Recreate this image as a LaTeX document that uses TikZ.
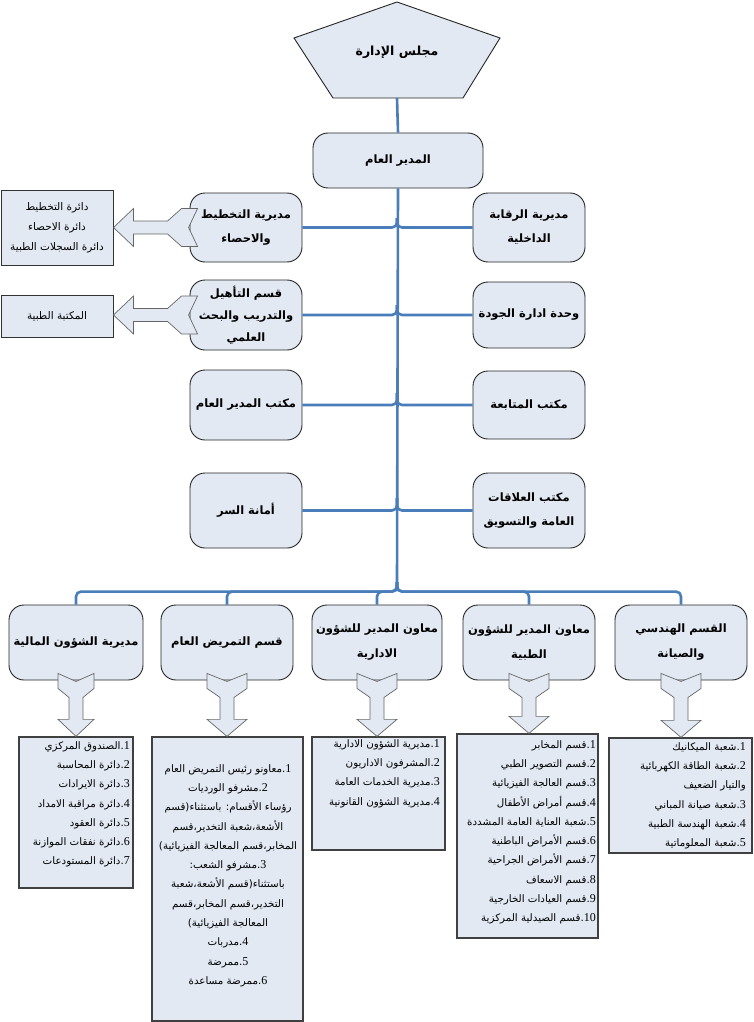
\documentclass[tikz,border=0pt]{standalone}
\usepackage{fontspec}
\setmainfont{Liberation Serif}
\newfontfamily\arabicfont[Script=Arabic]{DejaVu Sans}
\TeXXeTstate=1
\usetikzlibrary{calc}
\definecolor{boxfill}{HTML}{E2E9F3}
\definecolor{connblue}{HTML}{4A7EBB}
\newcommand\A{\arabicfont}
\newcommand\nm[1]{\hbox{\rmfamily\fontsize{12}{12}\selectfont #1}\hbox{.}}
\newcommand\unitfont{\fontsize{11.5}{24}\selectfont\bfseries}
\newcommand\listfont{\fontsize{10.3}{19.3}\selectfont}
\newcommand\blockdown[3]{%
  \path[arrowshape] let \p1=(#1.south), \p2=(#2.north) in
   (\x1-#3,\y1+7pt) -- (\x1,\y1-1pt) -- (\x1+#3,\y1+7pt) -- (\x1+#3,\y1-8pt)
   -- (\x1+7pt,\y1-17pt) -- (\x1+7pt,\y2+17pt) -- (\x1+#3,\y2+17pt) -- (\x1,\y2)
   -- (\x1-#3,\y2+17pt) -- (\x1-7pt,\y2+17pt) -- (\x1-7pt,\y1-17pt)
   -- (\x1-#3,\y1-8pt) -- cycle;}
\newcommand\blockleft[2]{%
  \path[arrowshape] let \p1=(#1.west), \p2=(#2.east) in
   (\x2,\y1) -- (\x2+20pt,\y1+19pt) -- (\x2+20pt,\y1+6.5pt) -- (\x1-22pt,\y1+6.5pt)
   -- (\x1-8pt,\y1+19pt) -- (\x1+8pt,\y1+19pt) -- (\x1-1pt,\y1) -- (\x1+8pt,\y1-19pt)
   -- (\x1-8pt,\y1-19pt) -- (\x1-22pt,\y1-6.5pt) -- (\x2+20pt,\y1-6.5pt)
   -- (\x2+20pt,\y1-19pt) -- cycle;}
\tikzset{
  unit/.style={draw=black!85, line width=0.9pt, fill=boxfill, rounded corners=15pt,
    inner sep=1pt, align=center, font=\unitfont},
  listbox/.style={draw=black!75, line width=1.3pt, fill=boxfill, inner sep=0pt},
  sidebox/.style={draw=black!80, line width=1pt, fill=boxfill, inner sep=1pt,
    align=center, font=\fontsize{10.5}{20}\selectfont},
  listtext/.style={align=right, font=\listfont, inner sep=0pt},
  conn/.style={draw=connblue, line width=2.6pt, rounded corners=5pt},
  arrowshape/.style={draw=black!60, line width=0.7pt, fill=boxfill, line join=miter}
}
\begin{document}
\begin{tikzpicture}[x=1pt,y=-1pt]
\useasboundingbox (0,0) rectangle (753,1022);
\fill[white] (0,0) rectangle (753,1022);

% board pentagon
\draw[draw=black!85, line width=0.9pt, fill=boxfill]
  (397,2) -- (500,38) -- (463,98) -- (333,98) -- (294,38) -- cycle;
\node[font=\fontsize{12.5}{14}\selectfont\bfseries] (board) at (397,52) {{\A\beginR مجلس الإدارة\endR}};
\coordinate (boardb) at (397,98);

% general manager
\node[unit, minimum width=170pt, minimum height=55pt] (gm) at (398,160.5) {{\A\beginR المدير العام\endR}};

% trunk coordinates
\coordinate (t1) at (397,218);
\coordinate (t2) at (397,305);
\coordinate (t3) at (397,393);
\coordinate (t4) at (397,498);
\coordinate (tb) at (397,582);

% side units
\node[unit, minimum width=112pt, minimum height=69pt] (plan) at (246,227.5) {{\A\beginR مديرية التخطيط\endR}\\{\A\beginR والاحصاء\endR}};
\node[unit, minimum width=112pt, minimum height=69pt] (ctrl) at (529,227.5) {{\A\beginR مديرية الرقابة\endR}\\{\A\beginR الداخلية\endR}};
\node[unit, minimum width=112pt, minimum height=70pt, font=\fontsize{11.5}{22}\selectfont\bfseries] (train) at (246,315) {{\A\beginR قسم التأهيل\endR}\\{\A\beginR والتدريب والبحث\endR}\\{\A\beginR العلمي\endR}};
\node[unit, minimum width=112pt, minimum height=66pt] (quality) at (529,315) {{\A\beginR وحدة ادارة الجودة\endR}};
\node[unit, minimum width=112pt, minimum height=70pt] (office) at (246,405) {{\A\beginR مكتب المدير العام\endR}};
\node[unit, minimum width=112pt, minimum height=68pt] (follow) at (529,405) {{\A\beginR مكتب المتابعة\endR}};
\node[unit, minimum width=112pt, minimum height=75pt] (secret) at (246,510.5) {{\A\beginR أمانة السر\endR}};
\node[unit, minimum width=112pt, minimum height=75pt] (pr) at (529,510.5) {{\A\beginR مكتب العلاقات\endR}\\{\A\beginR العامة والتسويق\endR}};

% connectors
\draw[conn] (boardb) -- (gm.north);
\draw[conn, rounded corners=0pt] (gm.south) -- (tb);
\foreach \t/\l/\r in {t1/plan/ctrl, t2/train/quality, t3/office/follow, t4/secret/pr}{
  \draw[conn] (\t) |- (\l.east);
  \draw[conn] (\t) |- (\r.west);
}

% left lists
\node[sidebox, minimum width=112pt, minimum height=75pt] (lplan) at (57,227.5)
  {{\A\beginR دائرة التخطيط\endR}\\{\A\beginR دائرة الاحصاء\endR}\\{\A\beginR دائرة السجلات الطبية\endR}};
\node[sidebox, minimum width=112pt, minimum height=42pt] (llib) at (57,316) {{\A\beginR المكتبة الطبية\endR}};
\blockleft{plan}{lplan}
\blockleft{train}{llib}

% bottom units
\node[unit, minimum width=134pt, minimum height=75pt] (fin) at (76,642.5) {{\A\beginR مديرية الشؤون المالية\endR}};
\node[unit, minimum width=132pt, minimum height=75pt] (nurse) at (227,642.5) {{\A\beginR قسم التمريض العام\endR}};
\node[unit, minimum width=130pt, minimum height=75pt, font=\fontsize{11.5}{25}\selectfont\bfseries] (adm) at (377,642.5) {{\A\beginR معاون المدير للشؤون\endR}\\{\A\beginR الادارية\endR}};
\node[unit, minimum width=132pt, minimum height=75pt, font=\fontsize{11.5}{25}\selectfont\bfseries] (med) at (529,642.5) {{\A\beginR معاون المدير للشؤون\endR}\\{\A\beginR الطبية\endR}};
\node[unit, minimum width=132pt, minimum height=75pt, font=\fontsize{11.5}{25}\selectfont\bfseries] (eng) at (681,642.5) {{\A\beginR القسم الهندسي\endR}\\{\A\beginR والصيانة\endR}};

\foreach \b in {fin,nurse,adm,med,eng}{
  \draw[conn] (tb) |- ($(\b.north)+(0,-13)$) -- (\b.north);
}

% list boxes
\node[listbox, minimum width=114pt, minimum height=151pt] (l1) at (76,812.5) {};
\node[listbox, minimum width=151pt, minimum height=284pt] (l2) at (227.5,879) {};
\node[listbox, minimum width=133pt, minimum height=113pt] (l3) at (378.5,793.5) {};
\node[listbox, minimum width=141pt, minimum height=204pt] (l4) at (527.5,836) {};
\node[listbox, minimum width=143pt, minimum height=115pt] (l5) at (680.5,795.5) {};

\blockdown{fin}{l1}{18pt}
\blockdown{nurse}{l2}{20pt}
\blockdown{adm}{l3}{20pt}
\blockdown{med}{l4}{20pt}
\blockdown{eng}{l5}{20pt}

\node[listtext, anchor=north east] (tx1) at (130,741) {%
{\A\beginR\nm{1}الصندوق المركزي\endR}\\
{\A\beginR\nm{2}دائرة المحاسبة\endR}\\
{\A\beginR\nm{3}دائرة الايرادات\endR}\\
{\A\beginR\nm{4}دائرة مراقبة الامداد\endR}\\
{\A\beginR\nm{5}دائرة العقود\endR}\\
{\A\beginR\nm{6}دائرة نفقات الموازنة\endR}\\
{\A\beginR\nm{7}دائرة المستودعات\endR}};

\node[listtext, align=center, anchor=north] (tx2) at (228,764) {%
{\A\beginR\nm{1}معاونو رئيس التمريض العام\endR}\\
{\A\beginR\nm{2}مشرفو الورديات\endR}\\
{\A\beginR رؤساء الأقسام: باستثناء(قسم\endR}\\
{\A\beginR الأشعة،شعبة التخدير،قسم\endR}\\
{\A\beginR المخابر،قسم المعالجة الفيزيائية)\endR}\\
{\A\beginR\nm{3}مشرفو الشعب:\endR}\\
{\A\beginR باستثناء(قسم الأشعة،شعبة\endR}\\
{\A\beginR التخدير،قسم المخابر،قسم\endR}\\
{\A\beginR المعالجة الفيزيائية)\endR}\\
{\A\beginR\nm{4}مدربات\endR}\\
{\A\beginR\nm{5}ممرضة\endR}\\
{\A\beginR\nm{6}ممرضة مساعدة\endR}};

\node[listtext, anchor=north east] (tx3) at (440,739) {%
{\A\beginR\nm{1}مديرية الشؤون الادارية\endR}\\
{\A\beginR\nm{2}المشرفون الاداريون\endR}\\
{\A\beginR\nm{3}مديرية الخدمات العامة\endR}\\
{\A\beginR\nm{4}مديرية الشؤون القانونية\endR}};

\node[listtext, anchor=north east] (tx4) at (596,740) {%
{\A\beginR\nm{1}قسم المخابر\endR}\\
{\A\beginR\nm{2}قسم التصوير الطبي\endR}\\
{\A\beginR\nm{3}قسم العالجة الفيزيائية\endR}\\
{\A\beginR\nm{4}قسم أمراض الأطفال\endR}\\
{\A\beginR\nm{5}شعبة العناية العامة المشددة\endR}\\
{\A\beginR\nm{6}قسم الأمراض الباطنية\endR}\\
{\A\beginR\nm{7}قسم الأمراض الجراحية\endR}\\
{\A\beginR\nm{8}قسم الاسعاف\endR}\\
{\A\beginR\nm{9}قسم العيادات الخارجية\endR}\\
{\A\beginR\nm{10}قسم الصيدلية المركزية\endR}};

\node[listtext, anchor=north east] (tx5) at (746,742) {%
{\A\beginR\nm{1}شعبة الميكانيك\endR}\\
{\A\beginR\nm{2}شعبة الطاقة الكهربائية\endR}\\
{\A\beginR والتيار الضعيف\endR}\hspace*{27pt}\\
{\A\beginR\nm{3}شعبة صيانة المباني\endR}\\
{\A\beginR\nm{4}شعبة الهندسة الطبية\endR}\\
{\A\beginR\nm{5}شعبة المعلوماتية\endR}};
\end{tikzpicture}
\end{document}
